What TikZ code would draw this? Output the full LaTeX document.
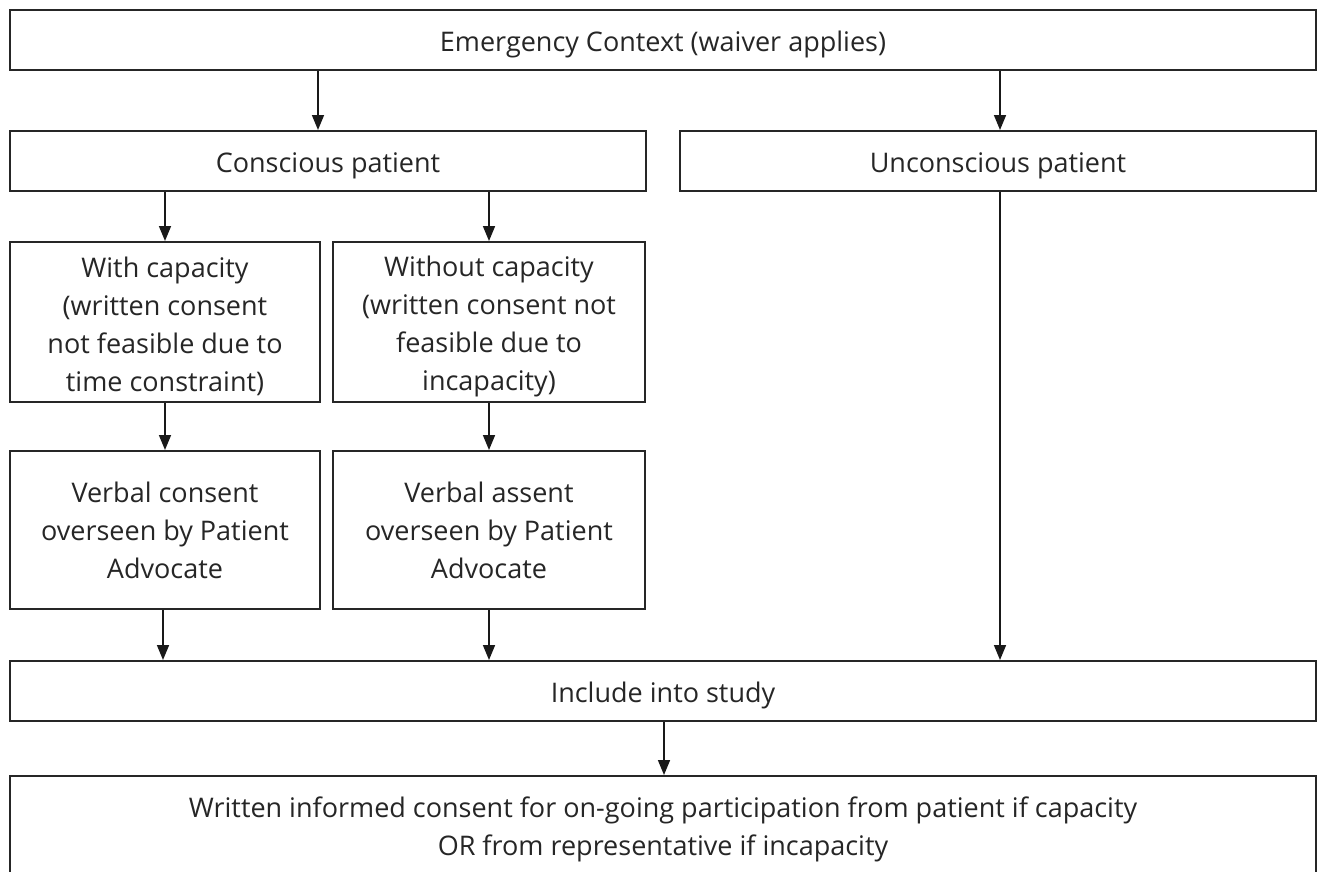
\documentclass[tikz,border=0pt]{standalone}
\usepackage{fontspec}
\setmainfont{Open Sans}
\usetikzlibrary{arrows.meta}
\newcommand\topst[1]{\rule{0pt}{#1pt}}
\begin{document}
\begin{tikzpicture}[x=1pt,y=-1pt,
  box/.style={draw=black!85, line width=2pt, rectangle, inner sep=0pt, align=center,
    font=\fontsize{27}{38}\selectfont, text=black!85},
  arr/.style={draw=black!90, line width=1.6pt, -{Triangle[length=15pt,width=12pt]}}]
\clip (0,0) rectangle (1324,871);
\fill[white] (0,0) rectangle (1324,871);
\node[box, minimum width=1306pt, minimum height=60pt] (top) at (663,40) {\topst{29}Emergency Context (waiver applies)\rule[-5.4pt]{0pt}{5.4pt}};
\node[box, minimum width=636pt, minimum height=60pt] (cons) at (328,161) {\topst{29}Conscious patient\rule[-5.4pt]{0pt}{5.4pt}};
\node[box, minimum width=636pt, minimum height=60pt] (uncons) at (998,161) {\topst{29}Unconscious patient\rule[-5.4pt]{0pt}{5.4pt}};
\node[box, minimum width=310pt, minimum height=160pt] (with) at (165,322) {\topst{29}With capacity\\(written consent\\not feasible due to\\time constraint)};
\node[box, minimum width=312pt, minimum height=160pt] (without) at (489,322) {\topst{29}Without capacity\\(written consent not\\feasible due to\\incapacity)};
\node[box, minimum width=310pt, minimum height=158pt] (vc) at (165,530) {\topst{20}Verbal consent\\overseen by Patient\\Advocate};
\node[box, minimum width=312pt, minimum height=158pt] (va) at (489,530) {\topst{20}Verbal assent\\overseen by Patient\\Advocate};
\node[box, minimum width=1306pt, minimum height=60pt] (inc) at (663,691) {\topst{29}Include into study\rule[-5.4pt]{0pt}{5.4pt}};
\node[box, minimum width=1306pt, minimum height=100pt] (wr) at (663,826) {\topst{27}Written informed consent for on-going participation from patient if capacity\\OR from representative if incapacity};
\coordinate (xa) at (318,0);
\coordinate (xb) at (1000,0);
\coordinate (xc) at (165,0);
\coordinate (xd) at (489,0);
\coordinate (xe) at (163,0);
\coordinate (xf) at (664,0);
\draw[arr] (top.south -| xa) -- (cons.north -| xa);
\draw[arr] (top.south -| xb) -- (uncons.north -| xb);
\draw[arr] (cons.south -| xc) -- (with.north -| xc);
\draw[arr] (cons.south -| xd) -- (without.north -| xd);
\draw[arr] (with.south -| xc) -- (vc.north -| xc);
\draw[arr] (without.south -| xd) -- (va.north -| xd);
\draw[arr] (vc.south -| xe) -- (inc.north -| xe);
\draw[arr] (va.south -| xd) -- (inc.north -| xd);
\draw[arr] (uncons.south -| xb) -- (inc.north -| xb);
\draw[arr] (inc.south -| xf) -- (wr.north -| xf);
\end{tikzpicture}
\end{document}
